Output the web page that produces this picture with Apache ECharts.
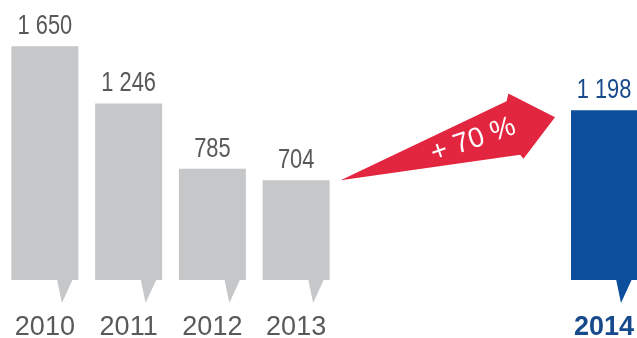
<!DOCTYPE html>
<html>
<head>
<meta charset="utf-8">
<script src="https://cdn.jsdelivr.net/npm/echarts@6/dist/echarts.min.js"></script>
<style>
html,body{margin:0;padding:0;background:#fff;}
#c{width:637px;height:338px;}
</style>
</head>
<body>
<div id="c"></div>
<script>
const years = ['2010', '2011', '2012', '2013'];
const values = [1650, 1246, 785, 704];
const highlightYear = ['2014'];
const highlightValue = [1198];
const growthLabel = '+ 70 %';

const GRAY = '#c6c7c9';
const BLUE = '#0c4d9c';
const RED = '#e3263f';
const TEXT_GRAY = '#58595b';
const TEXT_BLUE = '#164a8c';
const BAR_W = 67;
const FONT = 'Liberation Sans, Arial, sans-serif';

function fmt(v) {
  return String(v).replace(/\B(?=(\d{3})+(?!\d))/g, ' ');
}

// draws the speech-bubble tail under each bar and the condensed value label above it
function decoRenderer(color, textColor) {
  return function (params, api) {
    const b = api.coord([api.value(0), 0]);
    const t = api.coord([api.value(0), api.value(1)]);
    return {
      type: 'group',
      children: [
        {
          type: 'polygon',
          shape: { points: [[b[0] + 12, b[1] - 1], [b[0] + 28, b[1] - 1], [b[0] + 17, b[1] + 23]] },
          style: { fill: color }
        },
        {
          type: 'text',
          x: t[0], y: t[1] - 20,
          scaleX: 0.78, scaleY: 1,
          style: {
            text: fmt(api.value(1)), x: 0, y: 0,
            fill: textColor, fontSize: 28, fontFamily: FONT,
            align: 'center', verticalAlign: 'middle'
          }
        }
      ]
    };
  };
}

const chart = echarts.init(document.getElementById('c'), null, { renderer: 'canvas' });

chart.setOption({
  animation: false,
  backgroundColor: '#ffffff',
  grid: [
    { left: 3, width: 335, top: 25, bottom: 58, containLabel: false, outerBoundsMode: 'none' },
    { left: 571, width: 66, top: 25, bottom: 58, containLabel: false, outerBoundsMode: 'none' }
  ],
  xAxis: [
    {
      type: 'category', gridIndex: 0, data: years,
      axisLine: { show: false }, axisTick: { show: false }, splitLine: { show: false },
      axisLabel: { margin: 34, fontSize: 27, color: TEXT_GRAY, fontFamily: FONT }
    },
    {
      type: 'category', gridIndex: 1, data: highlightYear,
      axisLine: { show: false }, axisTick: { show: false }, splitLine: { show: false },
      axisLabel: { margin: 34, fontSize: 27, fontWeight: 'bold', color: TEXT_BLUE, fontFamily: FONT }
    }
  ],
  yAxis: [
    { type: 'value', gridIndex: 0, min: 0, max: 1800, show: false },
    { type: 'value', gridIndex: 1, min: 0, max: 1800, show: false }
  ],
  series: [
    {
      type: 'bar', xAxisIndex: 0, yAxisIndex: 0, data: values, barWidth: BAR_W,
      itemStyle: { color: GRAY }
    },
    {
      type: 'bar', xAxisIndex: 1, yAxisIndex: 1, data: highlightValue, barWidth: BAR_W,
      itemStyle: { color: BLUE }
    },
    {
      type: 'custom', xAxisIndex: 0, yAxisIndex: 0, clip: false,
      data: values.map((v, i) => [years[i], v]),
      encode: { x: 0, y: 1 },
      renderItem: decoRenderer(GRAY, TEXT_GRAY)
    },
    {
      type: 'custom', xAxisIndex: 1, yAxisIndex: 1, clip: false,
      data: highlightValue.map((v, i) => [highlightYear[i], v]),
      encode: { x: 0, y: 1 },
      renderItem: decoRenderer(BLUE, TEXT_BLUE)
    }
  ]
});

// Growth arrow anchored to the 2013 and 2014 bar tops
const last = years.length - 1;
const pA = chart.convertToPixel({ xAxisIndex: 0, yAxisIndex: 0 }, [years[last], values[last]]);
const pB = chart.convertToPixel({ xAxisIndex: 1, yAxisIndex: 1 }, [highlightYear[0], highlightValue[0]]);
const T = [pA[0] + BAR_W / 2 + 11, pA[1]];
const H = [pB[0] - 49, pB[1] + 7];
const dx = H[0] - T[0], dy = H[1] - T[1];
const L = Math.sqrt(dx * dx + dy * dy);
const u = [dx / L, dy / L];
const n = [u[1], -u[0]];
function P(s, t) { return [T[0] + u[0] * s + n[0] * t, T[1] + u[1] * s + n[1] * t]; }
const arrowPts = [
  P(0, 0),
  P(L - 42, 29),
  P(L - 38, 36),
  P(L, 0),
  P(L - 42, -31),
  P(L - 44, -26)
];
const angle = Math.atan2(-dy, dx);
const tc = P(L * 0.62, 1);

chart.setOption({
  graphic: [
    { type: 'polygon', shape: { points: arrowPts }, style: { fill: RED }, z: 10 },
    {
      type: 'text', x: tc[0], y: tc[1], rotation: angle + 0.05, z: 11,
      style: {
        text: growthLabel, fill: '#ffffff', fontSize: 28,
        fontFamily: FONT,
        align: 'center', verticalAlign: 'middle'
      }
    }
  ]
});
</script>
</body>
</html>
